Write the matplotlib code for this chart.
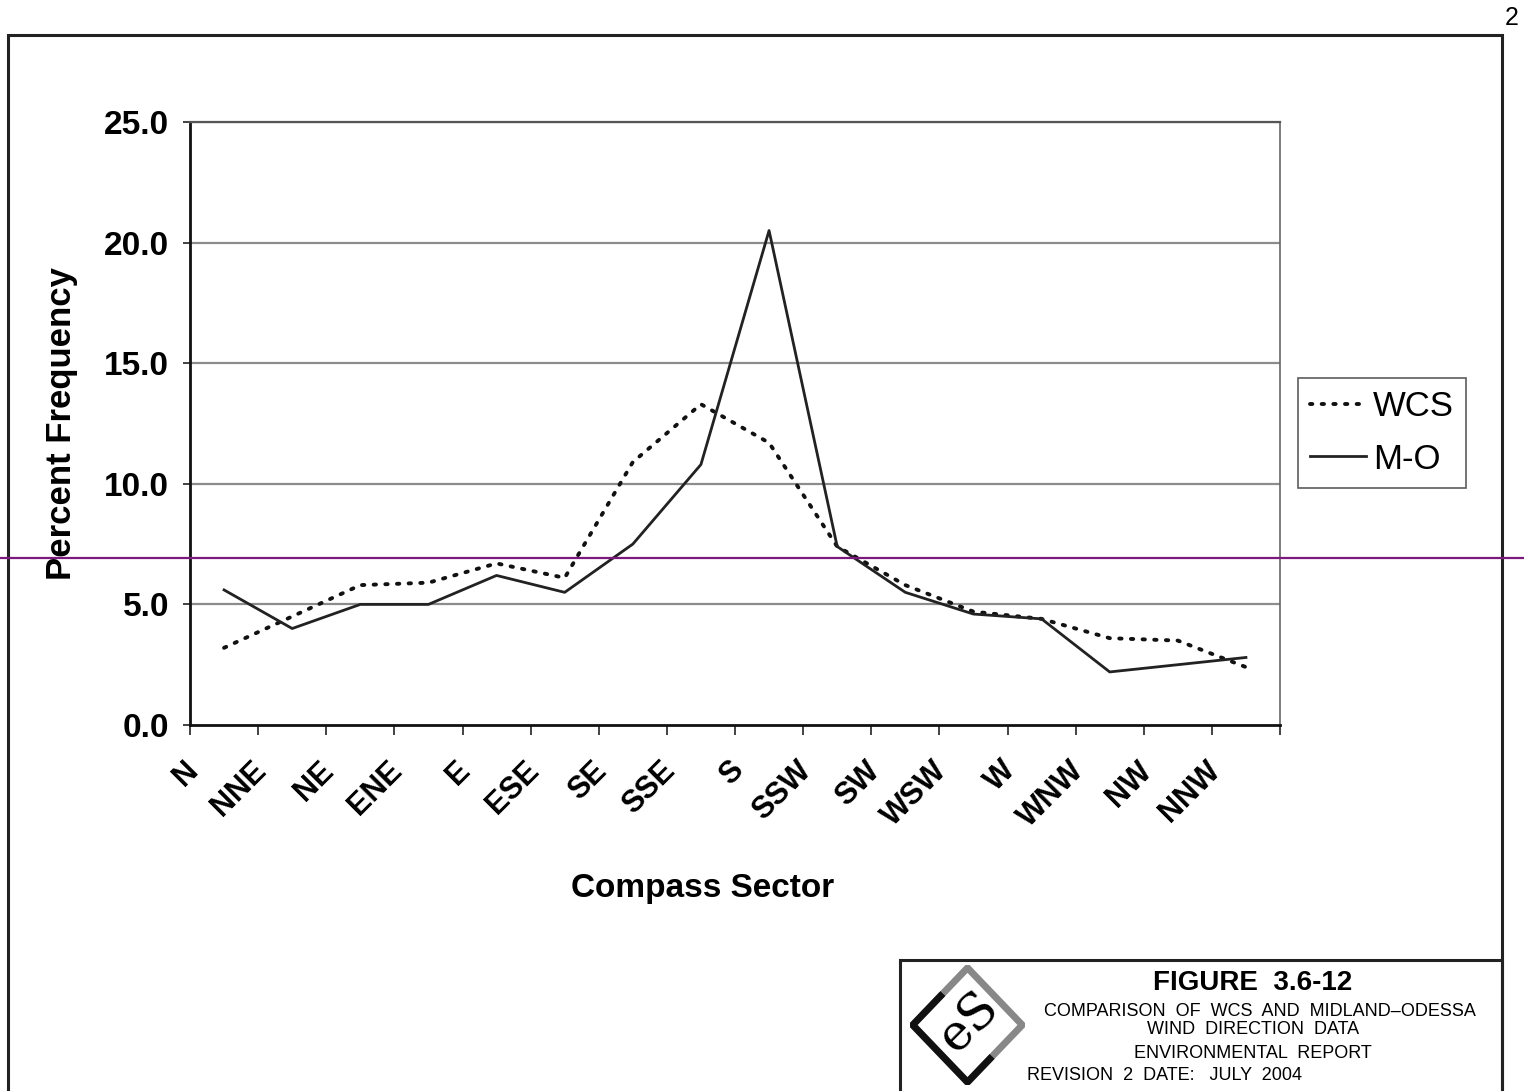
#!/usr/bin/env python3
"""WCS vs Midland-Odessa wind direction frequency (Figure 3.6-12)."""

import numpy as np
import matplotlib
matplotlib.use("Agg")
import matplotlib.pyplot as plt
from matplotlib.lines import Line2D
from matplotlib.patches import Rectangle, Polygon
from matplotlib.transforms import ScaledTranslation


# ── Data ──────────────────────────────────────────────────────────────────────

SECTORS = ["N", "NNE", "NE", "ENE", "E", "ESE", "SE", "SSE",
           "S", "SSW", "SW", "WSW", "W", "WNW", "NW", "NNW"]
WCS = [3.2, 4.5, 5.8, 5.9, 6.7, 6.1, 10.9, 13.3,
       11.7, 7.4, 5.8, 4.7, 4.4, 3.6, 3.5, 2.4]
MO = [5.6, 4.0, 5.0, 5.0, 6.2, 5.5, 7.5, 10.8,
      20.5, 7.4, 5.5, 4.6, 4.4, 2.2, 2.5, 2.8]
Y_TICKS = [0, 5, 10, 15, 20, 25]

FONT = "Liberation Sans"
W, H = 1524, 1091


def fx(px):
    return px / W


def fy(py):
    return 1 - py / H


# ── Chart ─────────────────────────────────────────────────────────────────────

plt.rcParams["font.family"] = [FONT, "DejaVu Sans"]
fig = plt.figure(figsize=(W / 100, H / 100), dpi=100)
fig.patch.set_facecolor("white")

ax = fig.add_axes([fx(190), fy(725), fx(1280) - fx(190), fy(122) - fy(725)])
x = np.arange(len(SECTORS))

ax.plot(x, WCS, color="#111111", lw=2.8, linestyle=(0, (0.6, 2.4)),
        dash_capstyle="round", label="WCS", zorder=3)
ax.plot(x, MO, color="#222222", lw=2.0, label="M-O", zorder=3)

ax.set_xlim(-0.5, len(SECTORS) - 0.5)
ax.set_ylim(0, 25)
ax.set_yticks(Y_TICKS)
ax.set_yticklabels([f"{v:.1f}" for v in Y_TICKS], fontsize=24,
                   fontweight="bold")
ax.tick_params(axis="y", length=5, width=1.2, pad=10, color="#222222")
for v in Y_TICKS[1:]:
    ax.axhline(v, color="#8c8c8c", lw=1.6, zorder=1)

# category labels at centres, tick marks at boundaries
ax.set_xticks(x)
ax.set_xticklabels(SECTORS, rotation=45, ha="right", va="top",
                   fontsize=22, fontweight="bold")
ax.tick_params(axis="x", which="major", length=0, pad=22)
shift = ScaledTranslation(-0.20, 0, fig.dpi_scale_trans)
for lbl in ax.get_xticklabels():
    lbl.set_transform(lbl.get_transform() + shift)
ax.set_xticks(np.arange(len(SECTORS) + 1) - 0.5, minor=True)
ax.tick_params(axis="x", which="minor", length=7, width=1.2,
               color="#222222")

for side in ("left", "bottom"):
    ax.spines[side].set_color("#111111")
    ax.spines[side].set_linewidth(2.0)
ax.spines["top"].set_color("#555555")
ax.spines["top"].set_linewidth(1.6)
ax.spines["right"].set_color("#666666")
ax.spines["right"].set_linewidth(1.2)

ax.set_ylabel("Percent Frequency", fontsize=25, fontweight="bold")
ax.yaxis.set_label_coords(-0.103, 0.5)
ax.set_xlabel("Compass Sector", fontsize=24, fontweight="bold")
ax.xaxis.set_label_coords(0.47, -0.245)

leg = ax.legend(loc="upper left", bbox_to_anchor=(1.0165, 0.575),
                fontsize=25, frameon=True, fancybox=False,
                handlelength=1.6, handletextpad=0.2, labelspacing=0.55,
                borderpad=0.35, borderaxespad=0)
leg.get_frame().set_edgecolor("#333333")
leg.get_frame().set_linewidth(1.2)

# ── Page furniture ────────────────────────────────────────────────────────────

fig.add_artist(Rectangle((fx(8), -0.02), fx(1502) - fx(8), fy(35) + 0.02,
                         transform=fig.transFigure, fill=False,
                         edgecolor="#222222", lw=2.2))
fig.add_artist(Rectangle((fx(900), -0.02), fx(1502) - fx(900),
                         fy(960) + 0.02, transform=fig.transFigure,
                         fill=False, edgecolor="#222222", lw=2.2))
fig.text(fx(1505), fy(18), "2", fontsize=18, ha="left", va="center")

fig.text(fx(1253), fy(983), "FIGURE  3.6-12", fontsize=20,
         fontweight="bold", ha="center", va="center")
fig.text(fx(1260), fy(1012), "COMPARISON  OF  WCS  AND  MIDLAND\u2013ODESSA",
         fontsize=13, ha="center", va="center")
fig.text(fx(1253), fy(1030), "WIND  DIRECTION  DATA", fontsize=13,
         ha="center", va="center")
fig.text(fx(1253), fy(1054), "ENVIRONMENTAL  REPORT", fontsize=13,
         ha="center", va="center")
fig.text(fx(1027), fy(1076), "REVISION  2  DATE:   JULY  2004",
         fontsize=13, ha="left", va="center")

# logo: diamond with "eS"
lax = fig.add_axes([fx(910), fy(1085), fx(1025) - fx(910),
                    fy(965) - fy(1085)])
lax.set_xlim(-1.05, 1.05)
lax.set_ylim(-1.05, 1.05)
lax.axis("off")
lax.add_patch(Polygon([(0, 1), (1, 0), (0, -1), (-1, 0)], closed=True,
                      fill=False, edgecolor="#888888", lw=5))
lax.plot([-0.45, -1, 0, 0.45], [0.55, 0, -1, -0.55], color="#111111",
         lw=5, solid_capstyle="butt")
lax.text(0.02, 0.05, "eS", fontsize=36, rotation=45, ha="center",
         va="center", family="DejaVu Serif")

# purple marker line across the page
fig.add_artist(Line2D([0, 1], [fy(558), fy(558)], transform=fig.transFigure,
                      color="#7b1a7b", lw=1.6))

fig.savefig("out.png", dpi=100)
